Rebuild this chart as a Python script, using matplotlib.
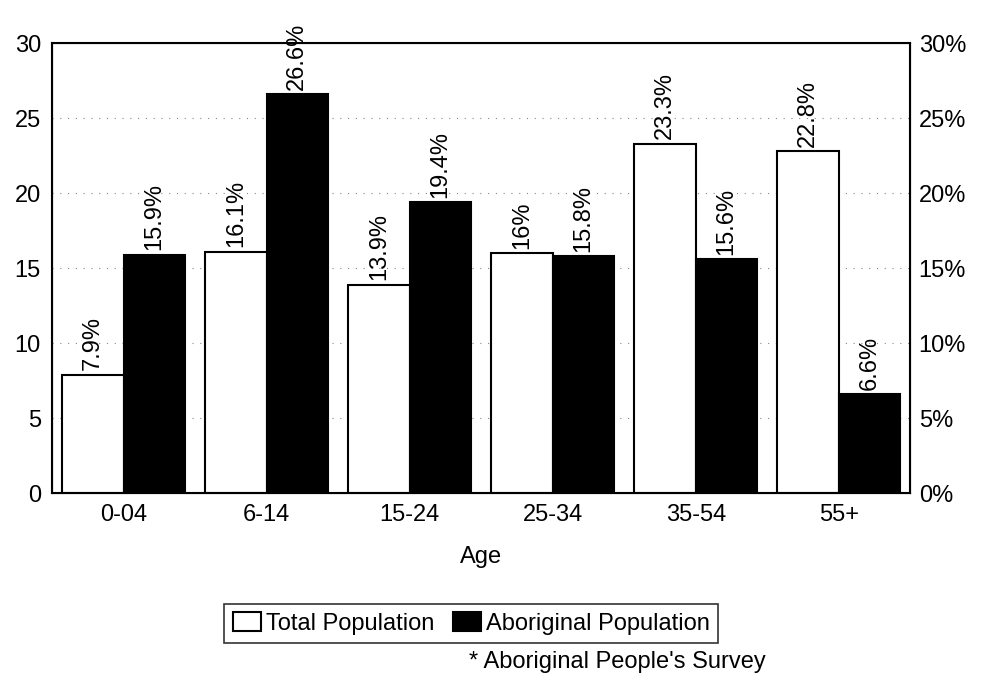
import matplotlib
matplotlib.use('Agg')
import matplotlib.pyplot as plt
import numpy as np

plt.rcParams['font.family'] = ['Liberation Sans', 'DejaVu Sans']

ages = ['0-04', '6-14', '15-24', '25-34', '35-54', '55+']
total_pop = [7.9, 16.1, 13.9, 16, 23.3, 22.8]
abor_pop = [15.9, 26.6, 19.4, 15.8, 15.6, 6.6]
total_labels = ['7.9%', '16.1%', '13.9%', '16%', '23.3%', '22.8%']
abor_labels = ['15.9%', '26.6%', '19.4%', '15.8%', '15.6%', '6.6%']

fig = plt.figure(figsize=(9.82, 6.83), dpi=100)
ax = fig.add_axes([0.053, 0.278, 0.874, 0.659])

x = np.arange(len(ages))
w = 0.43
# faint dotted grid, like the scan
for yv in [5, 10, 15, 20, 25]:
    ax.axhline(yv, color='#888888', linestyle=(0, (1, 6)), linewidth=0.8, zorder=0)

b1 = ax.bar(x - w / 2, total_pop, w, color='white', edgecolor='black', linewidth=1.5,
            label='Total Population', zorder=2)
b2 = ax.bar(x + w / 2, abor_pop, w, color='black', edgecolor='black', linewidth=1.5,
            label='Aboriginal Population', zorder=2)

for xi, v, s in zip(x - w / 2, total_pop, total_labels):
    ax.text(xi, v + 0.3, s, rotation=90, ha='center', va='bottom', fontsize=17)
for xi, v, s in zip(x + w / 2, abor_pop, abor_labels):
    ax.text(xi, v + 0.3, s, rotation=90, ha='center', va='bottom', fontsize=17)

ax.set_xlim(-0.5, 5.5)
ax.set_ylim(0, 30)
ax.set_yticks([0, 5, 10, 15, 20, 25, 30])
ax.set_xticks(x)
ax.set_xticklabels(ages)
ax.tick_params(axis='both', length=0, labelsize=17, pad=8)
for sp in ax.spines.values():
    sp.set_linewidth(1.5)

ax2 = ax.twinx()
ax2.set_ylim(0, 30)
ax2.set_yticks([0, 5, 10, 15, 20, 25, 30])
ax2.set_yticklabels(['0%', '5%', '10%', '15%', '20%', '25%', '30%'])
ax2.tick_params(axis='y', length=0, labelsize=17, pad=6)

ax.set_xlabel('Age', fontsize=17, labelpad=14)

leg = fig.legend(handles=[b1, b2], loc='center', bbox_to_anchor=(0.48, 0.087),
                 ncol=2, fontsize=17, frameon=True, fancybox=False,
                 edgecolor='black', handlelength=1.2, handleheight=0.8,
                 handletextpad=0.2, columnspacing=0.8, borderpad=0.35)
leg.get_frame().set_linewidth(1.2)

fig.text(0.478, 0.015, "* Aboriginal People's Survey", fontsize=17, ha='left', va='bottom')

fig.savefig('out.png', dpi=100)
